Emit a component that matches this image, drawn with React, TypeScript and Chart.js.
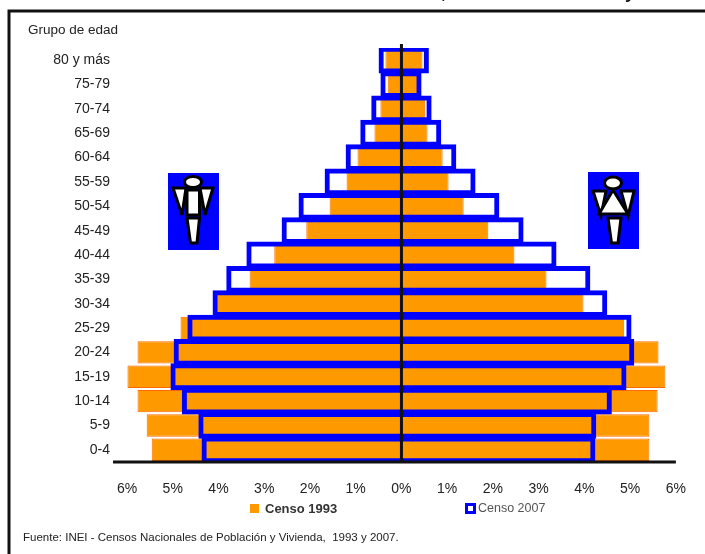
import React, { useEffect, useRef } from "react";
import { Chart, registerables } from "chart.js";

Chart.register(...registerables);

const ageGroups = ["80 y más","75-79","70-74","65-69","60-64","55-59","50-54","45-49","40-44","35-39","30-34","25-29","20-24","15-19","10-14","5-9","0-4"];
const men1993 = [0.35,0.3,0.46,0.59,0.96,1.2,1.57,2.08,2.78,3.32,4.04,4.83,5.77,5.99,5.77,5.57,5.46];
const women1993 = [0.46,0.38,0.52,0.57,0.9,1.03,1.36,1.9,2.47,3.17,3.98,4.87,5.62,5.77,5.6,5.42,5.42];
const men2007 = [0.5,0.46,0.66,0.9,1.22,1.68,2.25,2.62,3.39,3.83,4.13,4.68,4.98,5.05,4.8,4.44,4.37];
const women2007 = [0.6,0.44,0.66,0.87,1.2,1.62,2.14,2.67,3.39,4.13,4.5,5.03,5.09,4.92,4.6,4.26,4.24];
const legendLabels = ["Censo 1993", "Censo 2007"];
const axisTitle = "Grupo de edad";
const sourceNote = "Fuente: INEI - Censos Nacionales de Población y Vivienda,  1993 y 2007.";

const ORANGE = "#ff9900";
const BLUE = "#0000ff";
const SANS = '"Liberation Sans", Arial, sans-serif';

const span = (left: number[], right: number[]) => left.map((v, i) => [-v, right[i]]);

const decorations = {
  id: "decorations",
  afterDatasetsDraw(chart: any) {
    const { ctx, scales } = chart;
    const x = scales.x, y = scales.y;
    const zero = x.getPixelForValue(0);
    ctx.save();
    // frame
    ctx.strokeStyle = "#111";
    ctx.lineWidth = 3;
    ctx.beginPath();
    ctx.moveTo(9, 554); ctx.lineTo(9, 11); ctx.lineTo(705, 11);
    ctx.stroke();
    // base axis and central axis
    ctx.beginPath();
    ctx.moveTo(113, y.bottom); ctx.lineTo(x.right, y.bottom);
    ctx.moveTo(zero, y.top - 4); ctx.lineTo(zero, y.bottom);
    ctx.stroke();
    // clipped remains of the page title above the frame
    ctx.fillStyle = "#111";
    ctx.textAlign = "left";
    ctx.textBaseline = "alphabetic";
    ctx.font = `bold 18px ${SANS}`;
    ctx.fillText(",", 441, -2);
    ctx.fillText("y", 625, -2);
    // texts
    ctx.fillStyle = "#222";
    ctx.textBaseline = "middle";
    ctx.font = `13.5px ${SANS}`;
    ctx.fillText(axisTitle, 28, 30);
    ctx.font = `11.5px ${SANS}`;
    ctx.fillText(sourceNote, 23, 538);
    // legend
    ctx.fillStyle = ORANGE;
    ctx.fillRect(250, 504, 9, 9);
    ctx.fillStyle = "#333";
    ctx.font = `bold 13px ${SANS}`;
    ctx.fillText(legendLabels[0], 265, 509);
    ctx.strokeStyle = BLUE;
    ctx.lineWidth = 3;
    ctx.strokeRect(466.5, 504.5, 8, 8);
    ctx.fillStyle = "#555";
    ctx.font = `12.5px ${SANS}`;
    ctx.fillText(legendLabels[1], 478, 509);
    ctx.restore();
  },
};

function Figure({ woman }: { woman: boolean }) {
  return (
    <svg width="51" height="77" viewBox="0 0 51 77" style={{ display: "block", background: BLUE }}>
      <g fill="#fff" stroke="#000" strokeWidth="3" strokeLinejoin="miter">
        {woman ? (
          <>
            <ellipse cx="25" cy="11" rx="8.5" ry="6" />
            <path d="M5 19 L18 19 L13 44 Z" />
            <path d="M46 19 L33 19 L40 44 Z" />
            <path d="M25 18 L40 42 L11 42 Z" />
            <path d="M20 46 L33 46 L30 71 L23.5 71 Z" />
          </>
        ) : (
          <>
            <ellipse cx="25" cy="9" rx="8.5" ry="5.5" />
            <path d="M5 15 L18 15 L14 42 Z" />
            <path d="M45 15 L32 15 L37 42 Z" />
            <rect x="19" y="17" width="12.5" height="25" />
            <path d="M19 45 L31.5 45 L29 70 L22.5 70 Z" />
          </>
        )}
      </g>
    </svg>
  );
}

export default function App() {
  const ref = useRef<HTMLCanvasElement>(null);
  useEffect(() => {
    document.body.style.margin = "0";
    document.body.style.background = "#fff";
    const chart = new Chart(ref.current!, {
      type: "bar",
      data: {
        labels: ageGroups,
        datasets: [
          {
            label: legendLabels[1],
            data: span(men2007, women2007) as any,
            backgroundColor: "rgba(0,0,0,0)",
            borderColor: BLUE,
            borderWidth: 5,
            borderSkipped: false,
            barPercentage: 1.1,
            categoryPercentage: 1,
            grouped: false,
            order: 1,
          },
          {
            label: legendLabels[0],
            data: span(men1993, women1993) as any,
            backgroundColor: ORANGE,
            borderColor: "#ff6a00",
            borderWidth: 1,
            borderSkipped: false,
            barPercentage: 0.92,
            categoryPercentage: 1,
            grouped: false,
            order: 2,
          },
        ],
      },
      options: {
        indexAxis: "y",
        responsive: false,
        animation: false,
        layout: { padding: { top: 48, right: 29, bottom: 0, left: 0 } },
        plugins: { legend: { display: false }, tooltip: { enabled: false } },
        scales: {
          x: {
            min: -6,
            max: 6,
            grid: { display: false, drawTicks: false },
            border: { display: false },
            ticks: {
              stepSize: 1,
              padding: 19,
              maxRotation: 0,
              color: "#222",
              font: { family: SANS, size: 14 },
              callback: (v: any) => `${Math.abs(Number(v))}%`,
            },
            afterFit: (s: any) => { s.height = 92; },
          },
          y: {
            grid: { display: false, drawTicks: false },
            border: { display: false },
            ticks: {
              padding: 17,
              autoSkip: false,
              color: "#222",
              font: { family: SANS, size: 14 },
            },
            afterFit: (s: any) => { s.width = 127; },
          },
        },
      },
      plugins: [decorations],
    } as any);
    return () => chart.destroy();
  }, []);

  return (
    <div style={{ position: "relative", width: 705, height: 554, overflow: "hidden", filter: "blur(0.4px)" }}>
      <canvas ref={ref} width={705} height={554} style={{ display: "block" }} />
      <div style={{ position: "absolute", left: 168, top: 173 }}><Figure woman={false} /></div>
      <div style={{ position: "absolute", left: 588, top: 172 }}><Figure woman={true} /></div>
    </div>
  );
}
